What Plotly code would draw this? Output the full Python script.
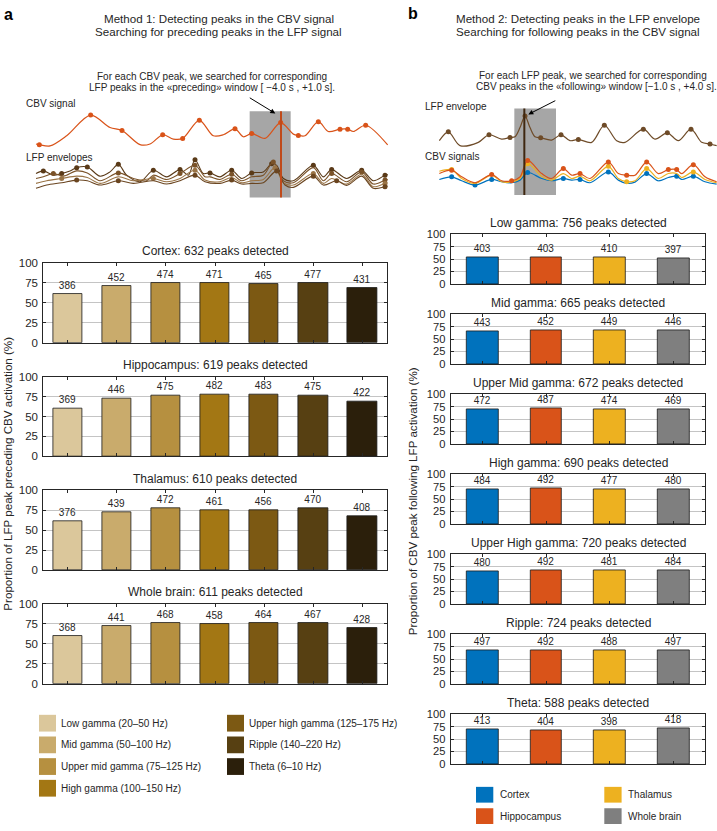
import plotly.graph_objects as go

W, H = 717, 831
FONT = "Liberation Sans, Arial, Helvetica, sans-serif"
TXT = "#262626"

# ---------------- data: panel a (Method 1) ----------------
band_names = ["Low gamma (20–50 Hz)", "Mid gamma (50–100 Hz)", "Upper mid gamma (75–125 Hz)",
              "High gamma (100–150 Hz)", "Upper high gamma (125–175 Hz)", "Ripple (140–220 Hz)",
              "Theta (6–10 Hz)"]
band_colors = ["#DBC79B", "#C9AB6C", "#B69040", "#A37714", "#7C5913", "#574012", "#2B1F0B"]

a_regions = ["Cortex", "Hippocampus", "Thalamus", "Whole brain"]
a_peaks = [632, 619, 610, 611]
a_cortex = [386, 452, 474, 471, 465, 477, 431]
a_hippocampus = [369, 446, 475, 482, 483, 475, 422]
a_thalamus = [376, 439, 472, 461, 456, 470, 408]
a_wholebrain = [368, 441, 468, 458, 464, 467, 428]
a_counts = [a_cortex, a_hippocampus, a_thalamus, a_wholebrain]

# ---------------- data: panel b (Method 2) ----------------
region_names = ["Cortex", "Hippocampus", "Thalamus", "Whole brain"]
region_colors = ["#0072BD", "#D95319", "#EDB120", "#7F7F7F"]
b_bands = ["Low gamma", "Mid gamma", "Upper Mid gamma", "High gamma", "Upper High gamma", "Ripple", "Theta"]
b_peaks = [756, 665, 672, 690, 720, 724, 588]
b_low = [403, 403, 410, 397]
b_mid = [443, 452, 449, 446]
b_uppermid = [472, 487, 474, 469]
b_high = [484, 492, 477, 480]
b_upperhigh = [480, 492, 481, 484]
b_ripple = [497, 492, 488, 497]
b_theta = [413, 404, 398, 418]
b_counts = [b_low, b_mid, b_uppermid, b_high, b_upperhigh, b_ripple, b_theta]

# ---------------- schematic traces (illustrative) ----------------
# panel a: CBV signal
cbv_a_x = [108, 118, 150, 200, 272, 330, 366, 420, 450, 488, 520, 548, 598, 640, 670, 705, 730, 755, 795, 842,
           880, 895, 915, 955, 985, 1020, 1043, 1060, 1097, 1163]
cbv_a_y = [150, 152, 156, 125, 62, 100, 109, 152, 150, 122, 135, 133, 78, 125, 122, 104, 128, 118, 133, 85,
           120, 124, 125, 82, 112, 105, 105, 112, 93, 153]
cbv_a_pk = [1, 4, 6, 9, 11, 12, 15, 17, 19, 21, 23, 25, 26, 28]

# panel a: LFP envelopes (4 bands)
lfp1_x = [108, 130, 160, 185, 210, 230, 262, 300, 330, 355, 380, 420, 460, 500, 540, 565, 585, 610, 630, 660, 695,
          725, 755, 790, 815, 830, 850, 880, 940, 970, 995, 1040, 1085, 1120, 1155, 1163]
lfp1_y = [240, 232, 245, 240, 232, 222, 220, 248, 235, 212, 245, 265, 230, 250, 228, 245, 198, 240, 238, 250, 230,
          255, 238, 235, 210, 215, 255, 262, 215, 250, 228, 255, 230, 262, 245, 243]
lfp1_pk = [1, 3, 5, 6, 9, 12, 14, 16, 18, 20, 22, 24, 28, 30, 32, 34]
lfp2_x = [108, 130, 160, 190, 230, 262, 300, 355, 400, 440, 460, 500, 540, 585, 615, 630, 660, 695, 725, 755, 790,
          820, 850, 880, 940, 970, 995, 1040, 1085, 1120, 1155, 1163]
lfp2_y = [255, 250, 240, 248, 232, 238, 262, 238, 255, 262, 245, 258, 240, 215, 250, 250, 258, 242, 262, 250, 245,
          205, 262, 268, 222, 262, 240, 265, 235, 272, 260, 258]
lfp2_pk = [2, 7, 12, 13, 17, 21, 26, 28, 30]
lfp3_x = [108, 140, 185, 230, 262, 300, 355, 400, 460, 500, 540, 585, 615, 660, 695, 725, 755, 790, 825, 850, 880,
          940, 970, 995, 1040, 1085, 1120, 1155, 1163]
lfp3_y = [270, 262, 255, 248, 252, 270, 250, 262, 255, 265, 255, 230, 260, 265, 252, 268, 262, 258, 222, 268, 275,
          240, 270, 255, 272, 242, 280, 270, 268]
lfp3_pk = [2, 8, 11, 18, 21, 27]
lfp4_x = [108, 140, 185, 230, 262, 300, 355, 400, 460, 500, 540, 585, 615, 660, 695, 725, 755, 790, 830, 855, 880,
          940, 970, 1010, 1040, 1085, 1120, 1155, 1163]
lfp4_y = [285, 275, 268, 260, 262, 275, 262, 270, 262, 272, 262, 245, 265, 270, 260, 272, 270, 268, 232, 275, 282,
          248, 275, 262, 276, 248, 285, 280, 278]
lfp4_pk = [3, 6, 11, 14, 18, 21, 23, 27]
lfp_a_x = [lfp1_x, lfp2_x, lfp3_x, lfp4_x]
lfp_a_y = [lfp1_y, lfp2_y, lfp3_y, lfp4_y]
lfp_a_pk = [lfp1_pk, lfp2_pk, lfp3_pk, lfp4_pk]
lfp_a_colors = ["#5A3A18", "#7A5228", "#9A7446", "#6A4520"]

# panel b: LFP envelope
lfp_b_x = [133, 160, 195, 250, 282, 320, 345, 360, 375, 390, 405, 420, 437, 470, 498, 525, 550, 590, 628, 665, 690,
           745, 780, 817, 850, 888, 920, 945, 965]
lfp_b_y = [140, 113, 155, 145, 122, 135, 130, 128, 100, 65, 100, 128, 131, 138, 122, 140, 136, 145, 93, 140, 145,
           105, 135, 116, 140, 105, 145, 150, 155]
lfp_b_pk = [1, 4, 6, 9, 12, 14, 16, 18, 21, 23, 25, 27]

# panel b: CBV signals (cortex, hippocampus, thalamus)
cbv_b_x = [133, 170, 200, 240, 290, 320, 350, 375, 398, 440, 470, 505, 530, 555, 585, 640, 670, 695, 720, 755, 790,
           820, 845, 860, 895, 930, 965]
cbv_hip_y = [240, 230, 250, 268, 243, 262, 262, 250, 200, 240, 255, 225, 245, 240, 255, 205, 240, 245, 245, 205, 240,
             228, 228, 240, 213, 250, 265]
cbv_hip_pk = [1, 4, 6, 8, 11, 13, 15, 17, 19, 21, 22, 24]
cbv_tha_y = [233, 228, 255, 270, 245, 265, 265, 255, 210, 248, 260, 240, 255, 248, 262, 218, 255, 265, 262, 225, 255,
             240, 240, 252, 235, 258, 268]
cbv_tha_pk = [1, 8, 15, 17, 19, 24]
cbv_ctx_y = [258, 250, 262, 275, 258, 265, 268, 260, 237, 255, 262, 255, 260, 258, 268, 235, 260, 270, 266, 240, 262,
             252, 248, 258, 248, 265, 272]
cbv_ctx_pk = [1, 3, 4, 8, 11, 13, 15, 19, 22, 24]


def fx(p):
    return p / W


def fy(p):
    return 1 - p / H


def xa(n):
    return "x" if n == 1 else f"x{n}"


def ya(n):
    return "y" if n == 1 else f"y{n}"


def lk(prefix, n):
    return prefix if n == 1 else f"{prefix}{n}"


fig = go.Figure()
layout = {}
annotations = []
shapes = []

AXC = "#262626"
GRID = "#C4C4C4"


def axis_pair(n, x0, x1, top, bottom, ncat, tickfont):
    layout[lk("xaxis", n)] = dict(
        domain=[fx(x0), fx(x1)], anchor=ya(n), range=[-0.5, ncat - 0.5],
        tickmode="array", tickvals=list(range(ncat)), showticklabels=False,
        ticks="inside", ticklen=3, tickcolor=AXC, tickwidth=1,
        showline=True, linecolor=AXC, linewidth=1, mirror="ticks",
        showgrid=False, zeroline=False, fixedrange=True)
    layout[lk("yaxis", n)] = dict(
        domain=[fy(bottom), fy(top)], anchor=xa(n), range=[0, 100],
        tickmode="array", tickvals=[0, 25, 50, 75, 100],
        ticks="inside", ticklen=3, tickcolor=AXC, tickwidth=1,
        showline=True, linecolor=AXC, linewidth=1, mirror="ticks",
        showgrid=True, gridcolor=GRID, gridwidth=1, zeroline=False,
        tickfont=dict(size=tickfont, color=TXT, family=FONT), ticklabelstandoff=2,
        fixedrange=True)


# ---------------- panel a bars ----------------
A_X0, A_X1 = 43.3, 386.7
A_TOPS = [260.7, 376.0, 491.3, 606.7]
A_H = 81.0
for i, counts in enumerate(a_counts):
    n = i + 1
    pct = [c / a_peaks[i] * 100 for c in counts]
    fig.add_trace(go.Bar(
        x=list(range(7)), y=pct, text=[str(c) for c in counts], textposition="outside",
        textfont=dict(size=10, color=TXT, family=FONT), cliponaxis=False,
        marker=dict(color=band_colors, line=dict(color="#1A1A1A", width=0.8)),
        width=0.6, xaxis=xa(n), yaxis=ya(n), showlegend=False, hoverinfo="skip"))
    top = A_TOPS[i]
    axis_pair(n, A_X0, A_X1, top, top + A_H, 7, 11.5)
    annotations.append(dict(x=fx((A_X0 + A_X1) / 2), y=fy(top - 11.8), xref="paper", yref="paper",
                            text=f"{a_regions[i]}: {a_peaks[i]} peaks detected", showarrow=False,
                            xanchor="center", yanchor="middle",
                            font=dict(size=12, color=TXT, family=FONT)))

# ---------------- panel b bars ----------------
B_X0, B_X1 = 450.7, 705.3
B_TOP0, B_STEP, B_H = 231.7, 81.17, 50.3
for j, counts in enumerate(b_counts):
    n = 5 + j
    pct = [c / b_peaks[j] * 100 for c in counts]
    fig.add_trace(go.Bar(
        x=list(range(4)), y=pct, text=[str(c) for c in counts], textposition="outside",
        textfont=dict(size=10, color=TXT, family=FONT), cliponaxis=False,
        marker=dict(color=region_colors, line=dict(color="#1A1A1A", width=0.8)),
        width=0.5, xaxis=xa(n), yaxis=ya(n), showlegend=False, hoverinfo="skip"))
    top = B_TOP0 + B_STEP * j
    axis_pair(n, B_X0, B_X1, top, top + B_H, 4, 11.2)
    annotations.append(dict(x=fx((B_X0 + B_X1) / 2), y=fy(top - 11.3), xref="paper", yref="paper",
                            text=f"{b_bands[j]}: {b_peaks[j]} peaks detected", showarrow=False,
                            xanchor="center", yanchor="middle",
                            font=dict(size=12, color=TXT, family=FONT)))

# ---------------- schematic axes ----------------
SA, SB = 12, 13
layout[lk("xaxis", SA)] = dict(domain=[fx(0), fx(400)], range=[0, 1200], anchor=ya(SA), visible=False, fixedrange=True)
layout[lk("yaxis", SA)] = dict(domain=[fy(200), fy(90)], range=[330, 0], anchor=xa(SA), visible=False, fixedrange=True)
layout[lk("xaxis", SB)] = dict(domain=[fx(395), fx(717)], range=[0, 966], anchor=ya(SB), visible=False, fixedrange=True)
layout[lk("yaxis", SB)] = dict(domain=[fy(200), fy(90)], range=[330, 0], anchor=xa(SB), visible=False, fixedrange=True)


def sig(xs, ys, pk, color, axn, width=1.2, msize=5):
    fig.add_trace(go.Scatter(x=xs, y=ys, mode="lines", line=dict(color=color, width=width, shape="spline", smoothing=0.9),
                             xaxis=xa(axn), yaxis=ya(axn), showlegend=False, hoverinfo="skip", cliponaxis=False))
    fig.add_trace(go.Scatter(x=[xs[k] for k in pk], y=[ys[k] for k in pk], mode="markers",
                             marker=dict(color=color, size=msize, line=dict(width=0)),
                             xaxis=xa(axn), yaxis=ya(axn), showlegend=False, hoverinfo="skip", cliponaxis=False))


# gray windows
shapes.append(dict(type="rect", xref=xa(SA), yref=ya(SA), x0=749, x1=872, y0=50, y1=313,
                   fillcolor="#A6A6A6", line=dict(width=0), layer="below"))
shapes.append(dict(type="rect", xref=xa(SB), yref=ya(SB), x0=358, x1=483, y0=42, y1=305,
                   fillcolor="#A6A6A6", line=dict(width=0), layer="below"))

sig(cbv_a_x, cbv_a_y, cbv_a_pk, "#D95319", SA)
for k in range(4):
    sig(lfp_a_x[k], lfp_a_y[k], lfp_a_pk[k], lfp_a_colors[k], SA, width=1.1, msize=5)

sig(lfp_b_x, lfp_b_y, lfp_b_pk, "#6E4B28", SB, width=1.2, msize=5)
sig(cbv_b_x, cbv_ctx_y, cbv_ctx_pk, "#0072BD", SB)
sig(cbv_b_x, cbv_tha_y, cbv_tha_pk, "#EDB120", SB)
sig(cbv_b_x, cbv_hip_y, cbv_hip_pk, "#D95319", SB)

# vertical peak lines
shapes.append(dict(type="line", xref=xa(SA), yref=ya(SA), x0=843, x1=843, y0=50, y1=313,
                   line=dict(color="#C04A1A", width=2), layer="above"))
shapes.append(dict(type="line", xref=xa(SB), yref=ya(SB), x0=388, x1=388, y0=42, y1=305,
                   line=dict(color="#3F2710", width=2), layer="above"))


# ---------------- texts ----------------
def txt(x, y, s, size=10, anchor="left", bold=False):
    annotations.append(dict(x=fx(x), y=fy(y), xref="paper", yref="paper", text=f"<b>{s}</b>" if bold else s,
                            showarrow=False, xanchor=anchor, yanchor="middle",
                            font=dict(size=size, color="#000000" if bold else TXT, family=FONT)))


txt(2, 8.5, "a", 16, "left", True)
txt(406, 7.5, "b", 16, "left", True)
txt(218.8, 12.7, "Method 1: Detecting peaks in the CBV signal", 11.6, "center")
txt(218.8, 25.7, "Searching for preceding peaks in the LFP signal", 11.6, "center")
txt(578.2, 12.7, "Method 2: Detecting peaks in the LFP envelope", 11.6, "center")
txt(578.2, 25.7, "Searching for following peaks in the CBV signal", 11.6, "center")

txt(212.2, 71.8, "For each CBV peak, we searched for corresponding", 10, "center")
txt(212.2, 82.3, "LFP peaks in the «preceding» window [ −4.0 s , +1.0 s].", 10, "center")
txt(593.2, 71.0, "For each LFP peak, we searched for corresponding", 10, "center")
txt(596.5, 81.5, "CBV peaks in the «following» window [−1.0 s , +4.0 s].", 10, "center")

txt(24, 99, "CBV signal", 10)
txt(24, 153.3, "LFP envelopes", 10)
txt(423.3, 102.3, "LFP envelope", 10)
txt(423.3, 152.7, "CBV signals", 10)

# arrows
annotations.append(dict(x=fx(275.3), y=fy(109), xref="paper", yref="paper", ax=-27, ay=-16.5,
                        showarrow=True, arrowhead=2, arrowsize=1, arrowwidth=1, arrowcolor="#000000", text=""))
annotations.append(dict(x=fx(528.3), y=fy(110), xref="paper", yref="paper", ax=28.5, ay=-14.5,
                        showarrow=True, arrowhead=2, arrowsize=1, arrowwidth=1, arrowcolor="#000000", text=""))

# y-axis titles
annotations.append(dict(x=fx(7.5), y=fy(475), xref="paper", yref="paper", textangle=-90, showarrow=False,
                        text="Proportion of LFP peak preceding CBV activation (%)", xanchor="center", yanchor="middle",
                        font=dict(size=11.6, color=TXT, family=FONT)))
annotations.append(dict(x=fx(412.5), y=fy(503), xref="paper", yref="paper", textangle=-90, showarrow=False,
                        text="Proportion of CBV peak following LFP activation (%)", xanchor="center", yanchor="middle",
                        font=dict(size=11.6, color=TXT, family=FONT)))

# ---------------- legends ----------------
for i, name in enumerate(band_names):
    col, row = (0, i) if i < 4 else (1, i - 4)
    sx = 39 if col == 0 else 227
    cy = 727.7 + 22 * row
    shapes.append(dict(type="rect", xref="paper", yref="paper", x0=fx(sx), x1=fx(sx + 17),
                       y0=fy(cy + 8.5), y1=fy(cy - 8.5), fillcolor=band_colors[i], line=dict(width=0)))
    txt(sx + 20, cy, name, 10)

for i, name in enumerate(region_names):
    col, row = (0, i) if i < 2 else (1, i - 2)
    sx = 476 if col == 0 else 604.3
    cy = 800.3 + 21.7 * row
    shapes.append(dict(type="rect", xref="paper", yref="paper", x0=fx(sx), x1=fx(sx + 17.3),
                       y0=fy(cy + 8), y1=fy(cy - 8), fillcolor=region_colors[i], line=dict(width=0)))
    txt(sx + 21.7, cy, name, 10)

layout.update(dict(
    width=W, height=H, margin=dict(l=0, r=0, t=0, b=0, pad=0),
    paper_bgcolor="white", plot_bgcolor="rgba(0,0,0,0)",
    annotations=annotations, shapes=shapes, showlegend=False,
    font=dict(family=FONT, color=TXT), bargap=0,
))
fig.update_layout(**layout)
fig.write_html("out.html", config={"displayModeBar": False},
               post_script="document.body.style.margin='0px';document.body.style.overflow='hidden';")
